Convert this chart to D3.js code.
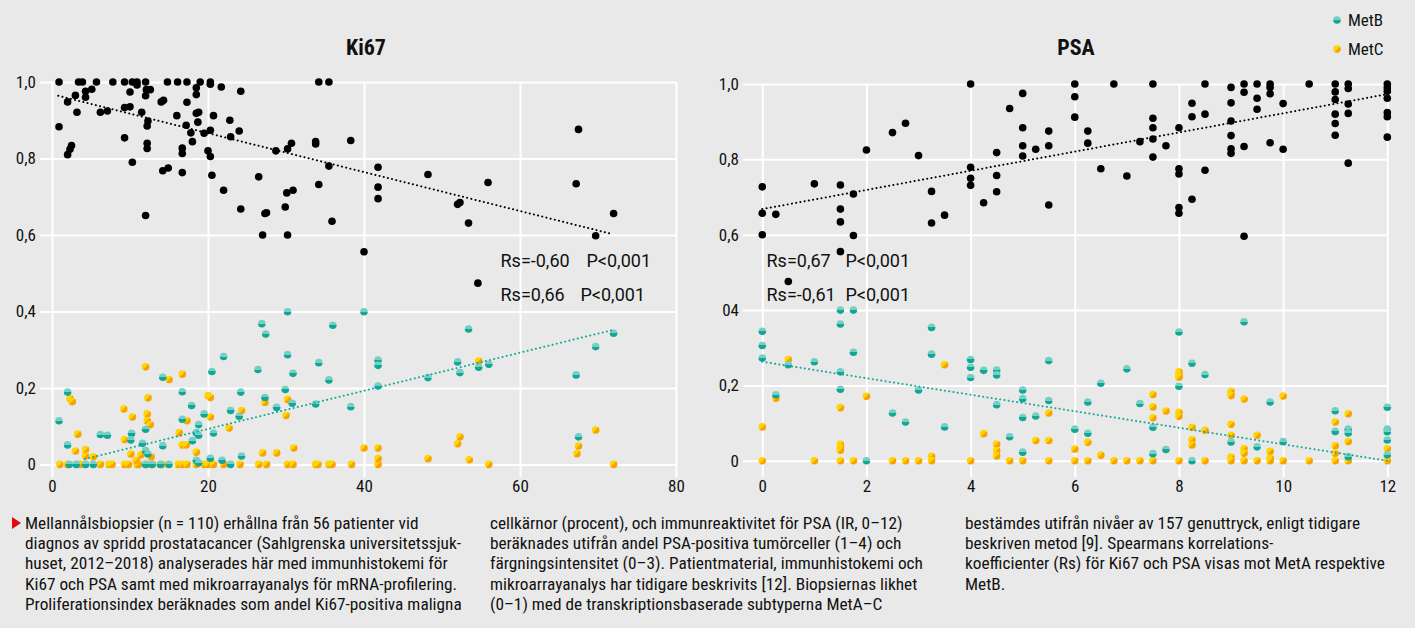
<!DOCTYPE html>
<html>
<head>
<meta charset="utf-8">
<script src="https://cdn.jsdelivr.net/npm/d3@7"></script>
<style>
  body { margin: 0; background: #e9e9e9; }
  svg { display: block; }
  .cond { font-family: "Liberation Sans Narrow", "Roboto Condensed", "DejaVu Sans Condensed", sans-serif; }
</style>
</head>
<body>
<div id="chart"></div>
<script>
// ---- data ----
const ki67XTicks = [0, 20, 40, 60, 80];
const psaXTicks = [0, 2, 4, 6, 8, 10, 12];
const yTicks = [0, 0.2, 0.4, 0.6, 0.8, 1.0];
const ki67YLabels = ["0", "0,2", "0,4", "0,6", "0,8", "1,0"];
const psaYLabels = ["0", "0,2", "04", "0,6", "0,8", "1,0"];

// Ki67 vs similarity to MetA (black)
const ki67MetA = [[0.9,1],[3.4,1],[3.9,1],[5.7,1],[7.8,1],[9.3,1],[10.3,1],[10.9,1],[12.0,1],[14.8,1],[16.1,1],[17.3,1],[19.0,1],[20.3,1],[34.2,1],[35.5,1],
  [0.9,0.883],[2.0,0.948],[3.0,0.965],[3.2,0.921],[2.0,0.81],[2.3,0.824],[2.5,0.834],[4.3,0.96],[4.3,0.976],[5.1,0.981],[6.2,0.921],[7.1,0.924],
  [9.3,0.854],[9.3,0.933],[10.0,0.935],[10.0,0.974],[10.3,0.79],[10.9,0.992],[11.5,0.921],[12.0,0.964],[12.3,0.898],[12.2,0.885],[12.2,0.84],
  [12.2,0.826],[12.0,0.651],[12.1,0.98],[12.6,0.98],[14.0,0.948],[14.3,0.952],[14.2,0.768],[14.9,0.775],[16.0,0.912],[16.7,0.827],[16.7,0.813],
  [16.7,0.763],[17.3,0.947],[17.2,0.887],[17.8,0.867],[18.0,0.844],[18.5,0.985],[18.5,0.967],[18.5,0.918],[18.8,0.921],[18.7,0.895],[19.5,0.866],
  [20.0,0.82],[20.3,0.805],[20.3,0.874],[20.3,0.994],[20.7,0.912],[20.5,0.756],[21.7,0.987],[22.0,0.717],[22.8,0.9],[22.9,0.857],[24.0,0.872],
  [24.2,0.976],[24.2,0.668],[26.5,0.752],[27.0,0.6],[27.3,0.656],[27.5,0.658],[28.7,0.82],[29.9,0.673],[30.1,0.71],[30.9,0.717],[30.2,0.6],
  [30.2,0.825],[30.7,0.84],[33.8,0.844],[33.8,0.838],[34.2,0.732],[35.5,0.78],[35.9,0.636],[38.3,0.847],[41.8,0.777],[41.8,0.725],[41.8,0.695],
  [48.2,0.758],[52.0,0.68],[52.3,0.685],[53.4,0.631],[55.9,0.737],[67.5,0.876],[67.2,0.734],[72.0,0.656],[69.7,0.598],[40.0,0.556],[54.6,0.474]];

// Ki67 vs MetB (teal)
const ki67MetB = [[0.9,0.114],[2.0,0.189],[2.0,0.051],[2.2,0],[3.1,0],[4.3,0],[5.3,0],[6.2,0.078],[7.1,0.076],[10.2,0.081],[10.1,0.064],
  [11.6,0.055],[12.0,0.092],[12.0,0.036],[12.3,0.027],[12.8,0],[12.0,0],[14.2,0.228],[14.2,0.049],[13.9,0],[15.0,0],[16.7,0.19],[16.7,0.118],
  [17.9,0.154],[18.0,0.062],[18.5,0.083],[18.8,0.104],[18.8,0.076],[18.5,0.011],[18.8,0.004],[19.5,0.132],[20.3,0.016],[20.5,0.243],[20.7,0.082],
  [22.0,0.282],[21.8,0.011],[22.9,0],[22.9,0.141],[24.0,0.126],[24.2,0.189],[24.3,0.022],[26.4,0.248],[26.9,0.368],[27.4,0.341],[27.3,0.175],
  [28.8,0.149],[29.9,0.196],[30.2,0.399],[30.2,0.287],[30.9,0.238],[30.8,0.16],[33.8,0.158],[34.2,0.266],[35.5,0.221],[36.0,0.364],[38.3,0.151],
  [40.0,0.399],[41.8,0.273],[41.8,0.259],[41.8,0.205],[48.2,0.227],[52.0,0.268],[52.3,0.24],[53.4,0.354],[54.7,0.254],[56.0,0.262],[67.2,0.234],
  [67.5,0.072],[69.7,0.308],[72.0,0.343]];

// Ki67 vs MetC (yellow)
const ki67MetC = [[1.0,0],[2.0,0],[3.6,0],[4.3,0],[6.2,0],[7.3,0],[7.7,0],[9.3,0],[9.8,0],[10.9,0],[11.1,0],[12.1,0],[12.9,0],[14.1,0],
  [16.2,0],[16.7,0],[17.3,0],[18.5,0],[19.5,0],[20.0,0],[20.7,0],[22.0,0],[24.1,0],[26.5,0],[27.5,0],[30.2,0],[30.9,0],[33.8,0],[34.1,0],
  [35.5,0],[35.9,0],[38.4,0],[41.8,0],[56.0,0],[72.0,0],
  [2.3,0.172],[2.6,0.164],[3.0,0.035],[3.3,0.079],[4.3,0.039],[4.3,0.022],[5.3,0.02],[9.2,0.145],[10.3,0.124],[9.3,0.065],[10.1,0.027],
  [10.8,0.011],[11.4,0.025],[12.0,0.255],[12.3,0.174],[12.2,0.132],[12.2,0.114],[12.6,0.104],[12.7,0.02],[15.0,0.222],[16.3,0.083],[16.7,0.236],
  [17.3,0.114],[16.7,0.051],[17.2,0.051],[18.5,0.032],[20.0,0.18],[20.3,0.175],[20.3,0.124],[22.7,0.095],[24.3,0.141],[27.0,0.03],[27.3,0.162],
  [28.8,0.03],[30.0,0.128],[30.2,0.17],[31.0,0.043],[40.0,0.043],[41.8,0.043],[41.8,0.015],[48.2,0.015],[52.0,0.054],[52.3,0.072],[53.5,0.012],
  [54.7,0.27],[67.3,0.028],[67.5,0.048],[69.7,0.09]];

// PSA vs MetA (black)
const psaMetA = [[0,0.727],[0,0.657],[0,0.6],[0.26,0.654],[0.5,0.476],[1.0,0.735],[1.5,0.732],[1.5,0.668],[1.5,0.634],[1.5,0.555],[1.75,0.708],
  [1.75,0.598],[2.0,0.825],[2.5,0.871],[2.75,0.896],[3.0,0.81],[3.25,0.715],[3.25,0.631],[3.5,0.652],[4.0,1.0],[4.0,0.779],[4.0,0.75],[4.0,0.731],
  [4.25,0.685],[4.5,0.818],[4.5,0.757],[4.5,0.714],[4.75,0.935],[5.0,0.975],[5.0,0.884],[5.0,0.836],[5.0,0.809],[5.25,0.827],[5.5,0.875],
  [5.5,0.836],[5.5,0.679],[6.0,1.0],[6.0,0.966],[6.0,0.912],[6.25,0.875],[6.25,0.843],[6.5,0.775],[6.75,1.0],[7.0,0.756],[7.25,0.847],[7.5,1.0],
  [7.5,0.909],[7.5,0.884],[7.5,0.854],[7.5,0.806],[7.75,0.836],[8.0,0.884],[8.0,0.775],[8.0,0.761],[8.0,0.672],[8.0,0.657],[8.25,0.949],
  [8.25,0.913],[8.25,0.694],[8.5,1.0],[8.5,0.92],[8.5,0.771],[9.0,0.991],[9.0,0.95],[9.0,0.902],[9.0,0.863],[9.0,0.828],[9.0,0.816],[9.25,1.0],
  [9.25,0.978],[9.25,0.834],[9.25,0.596],[9.5,1.0],[9.5,0.962],[9.5,0.933],[9.75,1.0],[9.75,0.991],[9.75,0.974],[9.75,0.844],[10.0,0.948],
  [10.0,0.827],[10.5,1.0],[11.0,1.0],[11.0,0.979],[11.0,0.959],[11.0,0.92],[11.0,0.895],[11.0,0.864],[11.25,1.0],[11.25,0.988],[11.25,0.947],
  [11.25,0.922],[11.25,0.79],[12,1.0],[12,0.99],[12,0.981],[12,0.962],[12,0.924],[12,0.913],[12,0.859]];

// PSA vs MetB (teal)
const psaMetB = [[0,0.344],[0,0.306],[0,0.273],[0.26,0.175],[0.5,0.255],[1.0,0.263],[1.5,0.4],[1.5,0.363],[1.5,0.236],[1.5,0.19],[1.75,0.4],
  [1.75,0.288],[2.0,0],[2.5,0.127],[2.75,0.103],[3.0,0.188],[3.25,0.354],[3.25,0.283],[3.5,0.09],[4.0,0.269],[4.0,0.248],[4.0,0.221],[4.25,0.24],
  [4.5,0.241],[4.5,0.228],[4.5,0.149],[4.75,0.064],[5.0,0.188],[5.0,0.165],[5.0,0.115],[5.0,0.023],[5.25,0.119],[5.5,0.266],[5.5,0.16],[6.0,0.084],
  [6.25,0.156],[6.25,0.073],[6.5,0.206],[7.0,0.244],[7.25,0.152],[7.5,0.089],[7.5,0.019],[7.75,0.03],[8.0,0.342],[8.0,0.198],[8.25,0.259],[8.25,0],
  [8.5,0.229],[9.0,0.05],[9.25,0.369],[9.5,0.037],[9.75,0.156],[10.0,0.051],[11.0,0.133],[11.0,0.078],[11.25,0.084],[11.25,0.074],[11.25,0.011],
  [12,0.142],[12,0.084],[12,0.077],[12,0.055],[12,0.016]];

// PSA vs MetC (yellow)
const psaMetC = [[0,0.09],[0,0],[0.26,0.166],[0.5,0.269],[1.0,0],[1.5,0.141],[1.5,0.044],[1.5,0.035],[1.5,0.028],[1.5,0],[1.75,0],[2.0,0.171],
  [2.5,0],[2.75,0],[3.0,0],[3.25,0.012],[3.25,0],[3.5,0.255],[4.0,0],[4.25,0.072],[4.5,0.044],[4.5,0.027],[4.5,0.013],[4.75,0],[5.0,0],
  [5.25,0.054],[5.5,0.127],[5.5,0.054],[5.5,0],[6.0,0.031],[6.0,0],[6.25,0.049],[6.25,0],[6.5,0.015],[6.75,0],[7.0,0],[7.25,0],[7.5,0.176],
  [7.5,0.143],[7.5,0.114],[7.5,0],[7.75,0.132],[8.0,0.236],[8.0,0.228],[8.0,0.222],[8.0,0.129],[8.0,0.118],[8.0,0],[8.25,0.089],[8.25,0.056],
  [8.25,0.042],[8.5,0.081],[8.5,0],[9.0,0.184],[9.0,0.173],[9.0,0.097],[9.0,0.068],[9.0,0.01],[9.0,0],[9.25,0.164],[9.25,0.032],[9.25,0.02],
  [9.25,0],[9.5,0.068],[9.5,0],[9.75,0.025],[9.75,0.007],[9.75,0],[10.0,0.172],[10.0,0],[10.5,0],[11.0,0.103],[11.0,0.04],[11.0,0.02],[11.0,0],
  [11.25,0.125],[11.25,0.051],[11.25,0],[12,0.032],[12,0]];

// fitted trend lines (end points)
const ki67TrendA = [[0.8, 0.964], [71.5, 0.604]];
const ki67TrendB = [[4.2, 0.014], [71.8, 0.351]];
const psaTrendA = [[0, 0.668], [12, 0.973]];
const psaTrendB = [[0, 0.263], [12, 0.0]];

const ki67Stats = [["Rs=-0,60", "P<0,001"], ["Rs=0,66", "P<0,001"]];
const psaStats = [["Rs=0,67", "P<0,001"], ["Rs=-0,61", "P<0,001"]];

const legendNames = ["MetB", "MetC"];

const caption = [
  ["Mellannålsbiopsier (n = 110) erhållna från 56 patienter vid",
   "diagnos av spridd prostatacancer (Sahlgrenska universitetssjuk-",
   "huset, 2012–2018) analyserades här med immunhistokemi för",
   "Ki67 och PSA samt med mikroarrayanalys för mRNA-profilering.",
   "Proliferationsindex beräknades som andel Ki67-positiva maligna"],
  ["cellkärnor (procent), och immunreaktivitet för PSA (IR, 0–12)",
   "beräknades utifrån andel PSA-positiva tumörceller (1–4) och",
   "färgningsintensitet (0–3). Patientmaterial, immunhistokemi och",
   "mikroarrayanalys har tidigare beskrivits [12]. Biopsiernas likhet",
   "(0–1) med de transkriptionsbaserade subtyperna MetA–C"],
  ["bestämdes utifrån nivåer av 157 genuttryck, enligt tidigare",
   "beskriven metod [9]. Spearmans korrelations-",
   "koefficienter (Rs) för Ki67 och PSA visas mot MetA respektive",
   "MetB."]
];

// ---- drawing ----
const width = 1415, height = 628;
const svg = d3.select("#chart").append("svg")
  .attr("width", width).attr("height", height)
  .attr("viewBox", [0, 0, width, height]);

svg.append("rect").attr("width", width).attr("height", height).attr("fill", "#e9e9e9");

// two-tone marker fills
const defs = svg.append("defs");
const tealGrad = defs.append("linearGradient").attr("id", "teal")
  .attr("x1", 0).attr("y1", 0).attr("x2", 0).attr("y2", 1);
tealGrad.append("stop").attr("offset", "50%").attr("stop-color", "#74cfc4");
tealGrad.append("stop").attr("offset", "50%").attr("stop-color", "#12a697");
const yellowGrad = defs.append("linearGradient").attr("id", "yellow")
  .attr("x1", 0).attr("y1", 0).attr("x2", 1).attr("y2", 1);
yellowGrad.append("stop").attr("offset", "50%").attr("stop-color", "#ffd400");
yellowGrad.append("stop").attr("offset", "50%").attr("stop-color", "#f7a300");

const panels = [
  { title: "Ki67", titleX: 366, xDomain: [-1.54, 80], xRange: [40, 676], yDomain: [-0.033, 1], yRange: [477, 82],
    xTicks: ki67XTicks, yLabels: ki67YLabels, a: ki67MetA, b: ki67MetB, c: ki67MetC,
    trendA: ki67TrendA, trendB: ki67TrendB, stats: ki67Stats, statX: [500.5, 586.5, 580.5] },
  { title: "PSA", titleX: 1076, xDomain: [-0.37, 12], xRange: [743, 1387.3], yDomain: [-0.043, 1], yRange: [477, 84],
    xTicks: psaXTicks, yLabels: psaYLabels, a: psaMetA, b: psaMetB, c: psaMetC,
    trendA: psaTrendA, trendB: psaTrendB, stats: psaStats, statX: [766.5, 845.5, 845.5] }
];

panels.forEach((p, pi) => {
  const x = d3.scaleLinear().domain(p.xDomain).range(p.xRange);
  const y = d3.scaleLinear().domain(p.yDomain).range(p.yRange);
  const g = svg.append("g");

  // y axis + horizontal grid
  g.append("g")
    .attr("transform", `translate(${p.xRange[0]},0)`)
    .call(d3.axisLeft(y).tickValues(yTicks)
      .tickSize(-(p.xRange[1] - p.xRange[0])).tickPadding(4)
      .tickFormat((d, i) => p.yLabels[i]))
    .call(a => a.select(".domain").remove())
    .call(a => a.selectAll("line").attr("stroke", "#fff").attr("stroke-width", 2))
    .call(a => a.selectAll("text").attr("class", "cond").attr("font-size", 17).attr("fill", "#111"));

  // x axis + vertical grid
  g.append("g")
    .attr("transform", `translate(0,${p.yRange[0]})`)
    .call(d3.axisBottom(x).tickValues(p.xTicks)
      .tickSize(-(p.yRange[0] - p.yRange[1])).tickPadding(3)
      .tickFormat(d => d))
    .call(a => a.select(".domain").remove())
    .call(a => a.selectAll("line").attr("stroke", "#fff").attr("stroke-width", 2))
    .call(a => a.selectAll("text").attr("class", "cond").attr("font-size", 17).attr("fill", "#111"));

  // title
  g.append("text")
    .attr("class", "cond")
    .attr("x", p.titleX).attr("y", 55)
    .attr("text-anchor", "middle")
    .attr("font-size", 22).attr("font-weight", "bold")
    .attr("fill", "#111")
    .text(p.title);

  // points: black, then yellow, then teal on top
  g.append("g").selectAll("circle").data(p.a).join("circle")
    .attr("cx", d => x(d[0])).attr("cy", d => y(d[1])).attr("r", 3.8).attr("fill", "#000");
  g.append("g").selectAll("circle").data(p.c).join("circle")
    .attr("cx", d => x(d[0])).attr("cy", d => y(d[1])).attr("r", 3.8).attr("fill", "url(#yellow)");
  g.append("g").selectAll("circle").data(p.b).join("circle")
    .attr("cx", d => x(d[0])).attr("cy", d => y(d[1])).attr("r", 3.8).attr("fill", "url(#teal)");

  // dotted trend lines
  const line = d3.line().x(d => x(d[0])).y(d => y(d[1]));
  g.append("path").attr("d", line(p.trendA))
    .attr("fill", "none").attr("stroke", "#000").attr("stroke-width", 2)
    .attr("stroke-linecap", "round").attr("stroke-dasharray", "0.1,4.2");
  g.append("path").attr("d", line(p.trendB))
    .attr("fill", "none").attr("stroke", "#14a899").attr("stroke-width", 2)
    .attr("stroke-linecap", "round").attr("stroke-dasharray", "0.1,4.2");

  // correlation labels
  p.stats.forEach((s, i) => {
    const t = g.append("g").attr("font-family", "Roboto, sans-serif").attr("font-size", 18).attr("fill", "#111");
    t.append("text").attr("x", p.statX[0]).attr("y", 267 + i * 34).text(s[0]);
    t.append("text").attr("x", p.statX[1 + i]).attr("y", 267 + i * 34).text(s[1]);
  });
});

// legend
const legend = svg.append("g").attr("transform", "translate(1337,20)");
legendNames.forEach((name, i) => {
  const row = legend.append("g").attr("transform", `translate(0,${i * 29})`);
  row.append("circle").attr("r", 3.8).attr("fill", i === 0 ? "url(#teal)" : "url(#yellow)");
  row.append("text").attr("class", "cond").attr("x", 11).attr("y", 6)
    .attr("font-size", 17).attr("fill", "#111").text(name);
});

// caption
const capX = [25, 490, 965];
const cap = svg.append("g").attr("class", "cond").attr("font-size", 17.3).attr("fill", "#111");
cap.append("path").attr("d", "M12,517 L21,523 L12,529 Z").attr("fill", "#e30613");
caption.forEach((col, ci) => {
  col.forEach((ln, li) => {
    cap.append("text").attr("x", capX[ci]).attr("y", 529 + li * 20.2).text(ln);
  });
});
</script>
</body>
</html>
